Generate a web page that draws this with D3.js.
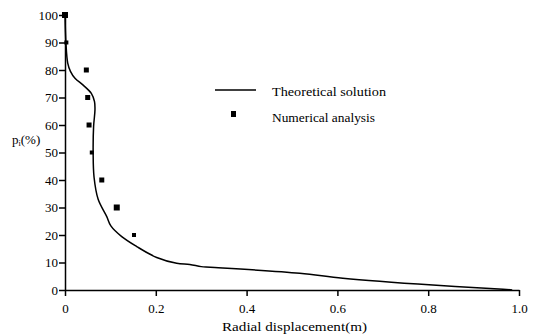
<!DOCTYPE html>
<html>
<head>
<meta charset="utf-8">
<script src="https://cdn.jsdelivr.net/npm/d3@7"></script>
<style>
  body { margin: 0; background: #fff; }
  svg { display: block; font-family: "Liberation Serif", "Times New Roman", serif; }
</style>
</head>
<body>
<svg id="chart" width="551" height="336"></svg>
<script>
// theoretical solution: radial displacement (m) vs p_i (%)
var theoryX = [0, 0.002, 0.006, 0.012, 0.022, 0.040, 0.058, 0.065, 0.066, 0.063, 0.062, 0.064, 0.073, 0.092, 0.101, 0.125, 0.158, 0.202, 0.246, 0.275, 0.300, 0.320, 0.517, 0.612, 0.810, 0.965, 0.985];
var theoryP = [100, 90, 82.5, 79.5, 77, 74.5, 71.5, 68.5, 65.5, 59.5, 50, 41, 33, 26.7, 23.3, 19.4, 15.8, 11.8, 9.7, 9.3, 8.5, 8.3, 6.1, 4.3, 1.8, 0.3, 0];
// numerical analysis points
var numX = [0, 0.003, 0.047, 0.050, 0.053, 0.059, 0.081, 0.114, 0.152];
var numP = [100, 90, 80, 70, 60, 50, 40, 30, 20];
var numSize = [6, 4, 5, 5, 5, 4, 5, 6, 4];
var xTicks = [0, 0.2, 0.4, 0.6, 0.8, 1.0];
var yTicks = [0, 10, 20, 30, 40, 50, 60, 70, 80, 90, 100];

(function () {
  'use strict';
  var font = '"Liberation Serif", "Times New Roman", serif';
  var svg = d3.select('#chart');
  var x = d3.scaleLinear().domain([0, 1]).range([65, 519]);
  var y = d3.scaleLinear().domain([0, 100]).range([290, 15]);

  var xAxis = svg.append('g')
    .attr('transform', 'translate(0,' + y(0) + ')')
    .call(d3.axisBottom(x).tickValues(xTicks).tickSize(6).tickSizeOuter(0)
      .tickFormat(function (d) { return d === 0 ? '0' : d3.format('.1f')(d); }));
  var yAxis = svg.append('g')
    .attr('transform', 'translate(' + x(0) + ',0)')
    .call(d3.axisLeft(y).tickValues(yTicks).tickSize(6).tickSizeOuter(0));

  [xAxis, yAxis].forEach(function (g) {
    g.attr('font-family', font).attr('font-size', 13);
    g.selectAll('path, line').attr('stroke', '#000').attr('stroke-width', 1.5);
    g.selectAll('text').attr('fill', '#000');
  });
  xAxis.selectAll('text').attr('y', 14);
  yAxis.selectAll('text').attr('x', -7);

  var pts = theoryX.map(function (v, i) { return [v, theoryP[i]]; });
  svg.append('path')
    .datum(pts)
    .attr('fill', 'none')
    .attr('stroke', '#000')
    .attr('stroke-width', 1.5)
    .attr('d', d3.line()
      .x(function (d) { return x(d[0]); })
      .y(function (d) { return y(d[1]); })
      .curve(d3.curveCatmullRom.alpha(0.5)));

  svg.append('g').selectAll('rect')
    .data(numX)
    .enter().append('rect')
    .attr('x', function (d, i) { return x(d) - numSize[i] / 2; })
    .attr('y', function (d, i) { return y(numP[i]) - numSize[i] / 2; })
    .attr('width', function (d, i) { return numSize[i]; })
    .attr('height', function (d, i) { return numSize[i]; })
    .attr('fill', '#000');

  // legend
  var leg = svg.append('g').attr('font-family', font).attr('font-size', 13.5);
  leg.append('line')
    .attr('x1', 215).attr('x2', 256).attr('y1', 90).attr('y2', 90)
    .attr('stroke', '#000').attr('stroke-width', 1.5);
  leg.append('text').attr('x', 272).attr('y', 96)
    .attr('textLength', 114).attr('lengthAdjust', 'spacingAndGlyphs')
    .text('Theoretical solution');
  leg.append('rect').attr('x', 231).attr('y', 111).attr('width', 5).attr('height', 6).attr('fill', '#000');
  leg.append('text').attr('x', 272).attr('y', 122)
    .attr('textLength', 103).attr('lengthAdjust', 'spacingAndGlyphs')
    .text('Numerical analysis');

  // axis titles
  svg.append('text')
    .attr('x', 222).attr('y', 331)
    .attr('font-family', font).attr('font-size', 12.5)
    .attr('textLength', 145).attr('lengthAdjust', 'spacingAndGlyphs')
    .text('Radial displacement(m)');
  var yl = svg.append('text').attr('x', 12).attr('y', 144)
    .attr('font-family', font).attr('font-size', 13);
  yl.append('tspan').text('p');
  yl.append('tspan').attr('dy', 2).attr('font-size', 8).text('i');
  yl.append('tspan').attr('dy', -2).text('(%)');
})();
</script>
</body>
</html>
